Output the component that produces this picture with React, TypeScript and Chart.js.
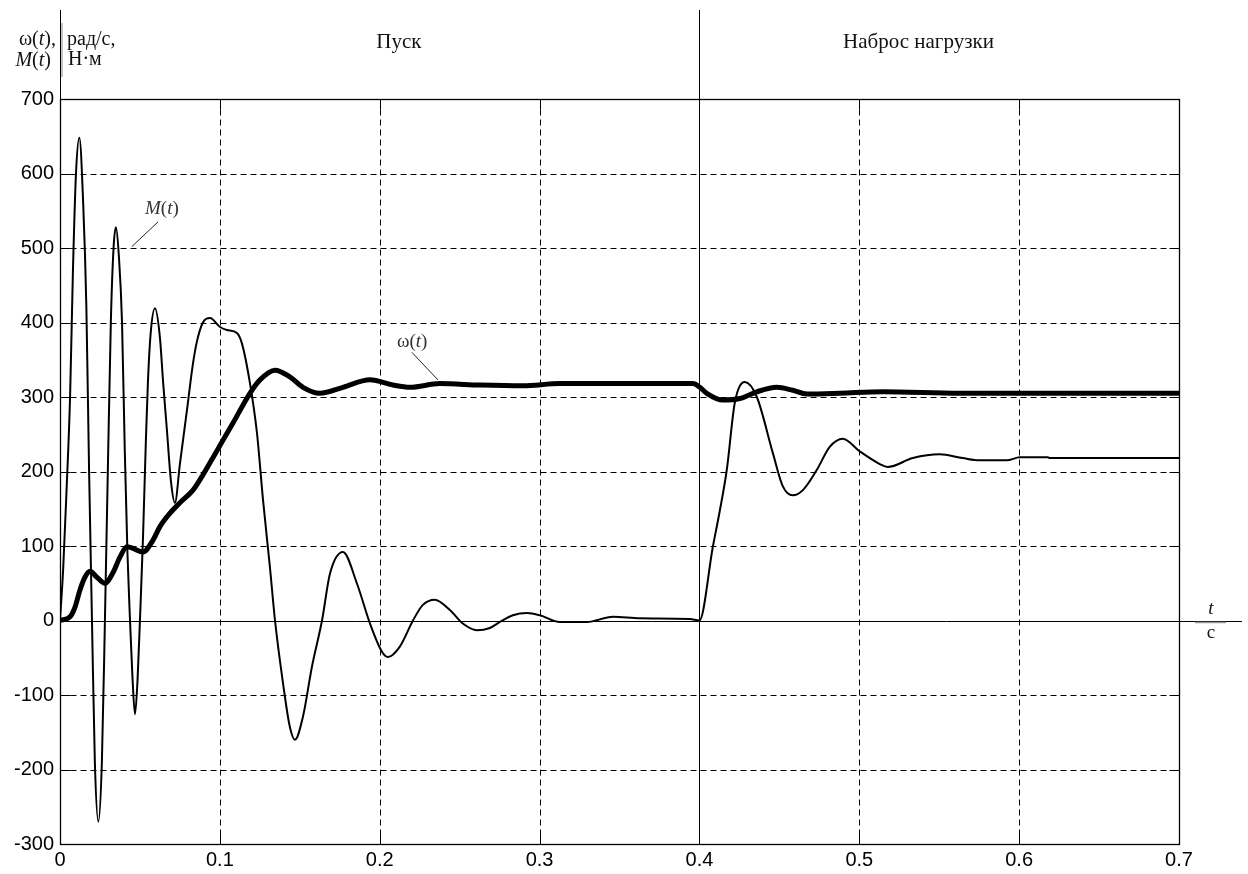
import React, { useEffect, useRef } from "react";
import { Chart, registerables } from "chart.js";

Chart.register(...registerables);

// ---- Data ----
const mTime = [
  0, 0.002, 0.004, 0.0063, 0.0081, 0.01, 0.0121,
  0.0145, 0.0165, 0.0182, 0.02, 0.0218, 0.024,
  0.0262, 0.0281, 0.03, 0.0318, 0.0335, 0.035,
  0.0368, 0.0388, 0.0405, 0.0422, 0.0438, 0.0452, 0.0469,
  0.0485, 0.05, 0.0519, 0.0537, 0.055, 0.0567, 0.0594,
  0.0625, 0.0645, 0.0669, 0.0695, 0.0719,
  0.075, 0.0794, 0.0832, 0.0857, 0.0894, 0.0938,
  0.1001, 0.1044, 0.1107, 0.1138, 0.1188, 0.1232, 0.127, 0.1313, 0.1345,
  0.1395, 0.1438, 0.147, 0.152, 0.1576, 0.1639, 0.1689, 0.177,
  0.1857, 0.1939, 0.2014, 0.2051, 0.2126, 0.2208, 0.227, 0.2345,
  0.2439, 0.252, 0.2608, 0.2689, 0.2752, 0.2833, 0.2921, 0.3002,
  0.3127, 0.3296, 0.3458, 0.3627, 0.394, 0.4,
  0.4084, 0.4128, 0.4171, 0.4221, 0.4284, 0.4359, 0.4459, 0.4522, 0.4584,
  0.4647, 0.4734, 0.4815, 0.4897, 0.5003, 0.5128, 0.5178, 0.5335, 0.5503,
  0.5647, 0.5753, 0.5922, 0.6004, 0.6179, 0.6191, 0.7,
];
const mValue = [
  0, 70, 170, 300, 470, 600, 648,
  560, 420, 200, 0, -190, -270,
  -190, 0, 210, 400, 500, 528,
  490, 400, 230, 90, 0, -70, -126,
  -80, 0, 110, 240, 320, 385, 419,
  380, 320, 255, 185, 158,
  210, 282, 345, 375, 400, 406,
  394, 390, 386, 372, 319, 252, 162, 72, 0,
  -84, -143, -160, -129, -62, 0, 63, 92,
  50, -4, -42, -49, -35, 0, 21, 28,
  14, -4, -13, -10, -2, 7, 10, 7,
  -2, -2, 5, 3, 2, 0,
  99, 148, 202, 292, 320, 300, 225, 180, 168,
  175, 202, 233, 244, 227, 210, 206, 218, 223,
  218, 215, 215, 219, 219, 218, 218,
];

const wTime = [
  0, 0.0063, 0.0094, 0.0125, 0.0156, 0.0188, 0.0231, 0.0281,
  0.0331, 0.0375, 0.0419, 0.0519, 0.0582, 0.0625, 0.0688, 0.075,
  0.0832, 0.0876, 0.0982, 0.1082, 0.1188, 0.1251, 0.1345, 0.1438,
  0.152, 0.1626, 0.177, 0.1939, 0.2083, 0.2189, 0.2376, 0.2627,
  0.2896, 0.3127, 0.3959, 0.4003, 0.4046, 0.4146, 0.4253, 0.4359,
  0.4484, 0.4584, 0.4672, 0.4878, 0.5147, 0.5629, 0.7,
];
const wValue = [
  0, 5, 18, 41, 58, 66, 58, 50,
  64, 85, 99, 92, 108, 126, 144, 158,
  175, 189, 228, 265, 305, 323, 336, 327,
  313, 305, 313, 323, 316, 313, 318, 316,
  315, 318, 318, 313, 305, 296, 298, 307,
  313, 309, 304, 305, 307, 305, 305,
];

const xTicks = [0, 0.1, 0.2, 0.3, 0.4, 0.5, 0.6, 0.7];
const xTickLabels = ["0", "0.1", "0.2", "0.3", "0.4", "0.5", "0.6", "0.7"];
const yTicks = [-300, -200, -100, 0, 100, 200, 300, 400, 500, 600, 700];
const yTickLabels = ["-300", "-200", "-100", "0", "100", "200", "300", "400", "500", "600", "700"];

const phaseLabels = ["Пуск", "Наброс нагрузки"];
const phaseCenters = [0.212, 0.537];
const loadTime = 0.4;

// annotation anchors in data units: [labelT, labelV, fromT, fromV, toT, toV]
const mNote = [0.0532, 552, 0.0613, 535, 0.045, 502];
const wNote = [0.2108, 374, 0.2201, 360, 0.2364, 323];

const SERIF = '"Liberation Serif", "Times New Roman", serif';
const SANS = '"Liberation Sans", Arial, sans-serif';

type Part = [string, boolean];

function drawRich(
  ctx: CanvasRenderingContext2D,
  parts: Part[],
  x: number,
  y: number,
  align: "left" | "right" | "center",
  size: number,
  color: string
) {
  ctx.save();
  ctx.fillStyle = color;
  ctx.textBaseline = "middle";
  ctx.textAlign = "left";
  const widths = parts.map(([s, it]) => {
    ctx.font = `${it ? "italic " : ""}${size}px ${SERIF}`;
    return ctx.measureText(s).width;
  });
  const total = widths.reduce((a, b) => a + b, 0);
  let cx = align === "left" ? x : align === "right" ? x - total : x - total / 2;
  parts.forEach(([s, it], i) => {
    ctx.font = `${it ? "italic " : ""}${size}px ${SERIF}`;
    ctx.fillText(s, cx, y);
    cx += widths[i];
  });
  ctx.restore();
}

const decorPlugin = {
  id: "decor",
  beforeDatasetsDraw(chart: any) {
    const { ctx, chartArea: a, scales } = chart;
    const x = scales.x;
    const y = scales.y;
    const W = chart.width;
    ctx.save();
    ctx.strokeStyle = "#000";
    ctx.lineWidth = 1;
    const line = (x1: number, y1: number, x2: number, y2: number) => {
      ctx.beginPath();
      ctx.moveTo(x1, y1);
      ctx.lineTo(x2, y2);
      ctx.stroke();
    };
    const px = (v: number) => Math.round(x.getPixelForValue(v)) + 0.5;
    const py = (v: number) => Math.round(y.getPixelForValue(v)) + 0.5;
    const L = Math.round(a.left) + 0.5;
    const R = Math.round(a.right) + 0.5;
    const T = Math.round(a.top) + 0.5;
    const B = Math.round(a.bottom) + 0.5;

    // dashed grid
    ctx.setLineDash([6, 4]);
    yTicks.forEach((v, i) => {
      if (v === 0 || i === 0 || i === yTicks.length - 1) return;
      line(L, py(v), R, py(v));
    });
    xTicks.forEach((v, i) => {
      if (v === loadTime || i === 0 || i === xTicks.length - 1) return;
      line(px(v), T, px(v), B);
    });
    ctx.setLineDash([]);

    // inward ticks
    const tl = 10;
    yTicks.forEach((v) => {
      line(L, py(v), L + tl, py(v));
      line(R, py(v), R - tl, py(v));
    });
    xTicks.forEach((v) => {
      line(px(v), B, px(v), B - tl);
      line(px(v), T, px(v), T + tl);
    });

    // frame
    ctx.lineWidth = 1.3;
    ctx.strokeRect(L, T, R - L, B - T);
    ctx.lineWidth = 1;
    // zero line extending right
    line(L, py(0), W - 6, py(0));
    // load vertical line, extending to top
    line(px(loadTime), 10, px(loadTime), B);
    // left axis extension
    line(L, 10, L, T);
    // separator in header
    ctx.strokeStyle = "#888";
    line(L + 1.5, 23, L + 1.5, 77);
    ctx.restore();
  },
  afterDraw(chart: any) {
    const { ctx, scales } = chart;
    const x = scales.x;
    const y = scales.y;
    const black = "#111";

    // phase labels
    ctx.save();
    ctx.fillStyle = black;
    ctx.font = `21px ${SERIF}`;
    ctx.textAlign = "center";
    ctx.textBaseline = "middle";
    phaseLabels.forEach((s, i) => {
      ctx.fillText(s, x.getPixelForValue(phaseCenters[i]), 42);
    });
    ctx.restore();

    // axis header
    drawRich(ctx, [["ω(", false], ["t", true], ["),", false]], 56, 40, "right", 20, black);
    drawRich(ctx, [["M", true], ["(", false], ["t", true], [")", false]], 51, 61, "right", 20, black);
    drawRich(ctx, [["рад/с,", false]], 67, 40, "left", 20, black);
    drawRich(ctx, [["Н·м", false]], 68, 60, "left", 20, black);

    // t / c at the right of the zero line
    const zy = y.getPixelForValue(0);
    drawRich(ctx, [["t", true]], 1211, zy - 12, "center", 19, black);
    drawRich(ctx, [["c", false]], 1211, zy + 13, "center", 19, black);
    ctx.save();
    ctx.strokeStyle = "#999";
    ctx.lineWidth = 1.5;
    ctx.beginPath();
    ctx.moveTo(1195, zy + 2);
    ctx.lineTo(1226, zy + 2);
    ctx.stroke();
    ctx.restore();

    // curve annotations
    const note = (n: number[], parts: Part[]) => {
      drawRich(ctx, parts, x.getPixelForValue(n[0]), y.getPixelForValue(n[1]), "left", 19, "#333");
      ctx.save();
      ctx.strokeStyle = "#222";
      ctx.lineWidth = 1;
      ctx.beginPath();
      ctx.moveTo(x.getPixelForValue(n[2]), y.getPixelForValue(n[3]));
      ctx.lineTo(x.getPixelForValue(n[4]), y.getPixelForValue(n[5]));
      ctx.stroke();
      ctx.restore();
    };
    note(mNote, [["M", true], ["(", false], ["t", true], [")", false]]);
    note(wNote, [["ω(", false], ["t", true], [")", false]]);
  },
};

export default function App() {
  const ref = useRef<HTMLCanvasElement | null>(null);

  useEffect(() => {
    if (!ref.current) return;
    const chart = new Chart(ref.current, {
      type: "line",
      data: {
        datasets: [
          {
            label: "M(t)",
            data: mTime.map((t, i) => ({ x: t, y: mValue[i] })),
            borderColor: "#000",
            borderWidth: 2,
            pointRadius: 0,
            cubicInterpolationMode: "monotone",
            fill: false,
          },
          {
            label: "ω(t)",
            data: wTime.map((t, i) => ({ x: t, y: wValue[i] })),
            borderColor: "#000",
            borderWidth: 5,
            pointRadius: 0,
            cubicInterpolationMode: "monotone",
            fill: false,
          },
        ],
      },
      options: {
        animation: false,
        responsive: false,
        devicePixelRatio: 1,
        layout: { padding: { left: 0, top: 99, right: 69, bottom: 0 } },
        plugins: {
          legend: { display: false },
          tooltip: { enabled: false },
          title: { display: false },
        },
        scales: {
          x: {
            type: "linear",
            min: xTicks[0],
            max: xTicks[xTicks.length - 1],
            afterBuildTicks: (s: any) => {
              s.ticks = xTicks.map((v) => ({ value: v }));
            },
            afterFit: (s: any) => {
              s.height = 30;
            },
            grid: { display: false, drawTicks: false },
            border: { display: false },
            ticks: {
              padding: 4,
              color: "#000",
              font: { family: SANS, size: 20 },
              maxRotation: 0,
              autoSkip: false,
              callback: (v: any) => {
                const i = xTicks.findIndex((t) => Math.abs(t - Number(v)) < 1e-9);
                return i >= 0 ? xTickLabels[i] : "";
              },
            },
          },
          y: {
            type: "linear",
            min: yTicks[0],
            max: yTicks[yTicks.length - 1],
            afterBuildTicks: (s: any) => {
              s.ticks = yTicks.map((v) => ({ value: v }));
            },
            afterFit: (s: any) => {
              s.width = 60;
            },
            grid: { display: false, drawTicks: false },
            border: { display: false },
            ticks: {
              padding: 6,
              color: "#000",
              font: { family: SANS, size: 20 },
              autoSkip: false,
              callback: (v: any) => {
                const i = yTicks.findIndex((t) => Math.abs(t - Number(v)) < 1e-9);
                return i >= 0 ? yTickLabels[i] : "";
              },
            },
          },
        },
      },
      plugins: [decorPlugin],
    } as any);
    return () => chart.destroy();
  }, []);

  return (
    <div
      style={{
        position: "fixed",
        left: 0,
        top: 0,
        width: 1248,
        height: 874,
        background: "#fff",
      }}
    >
      <canvas ref={ref} width={1248} height={874} style={{ display: "block" }} />
    </div>
  );
}
